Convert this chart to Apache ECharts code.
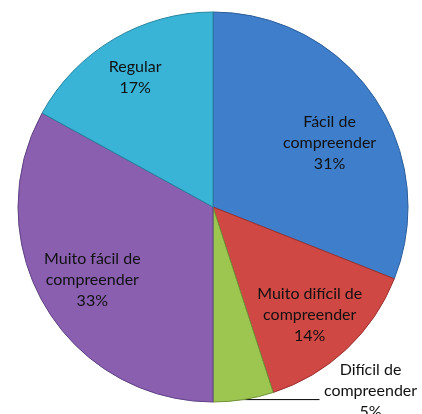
<!DOCTYPE html>
<html><head><meta charset="utf-8">
<script src="https://cdn.jsdelivr.net/npm/echarts@6/dist/echarts.min.js"></script>
<style>html,body{margin:0;padding:0;background:#fff}#c{width:422px;height:414px}</style>
</head><body><div id="c"></div>
<script>
const categories = ["Fácil de\ncompreender", "Muito difícil de\ncompreender", "Difícil de\ncompreender", "Muito fácil de\ncompreender", "Regular"];
const values = [31, 14, 5, 33, 17];
const colors = ["#3E7ECA", "#CF4843", "#9CC650", "#8A5FB0", "#39B3D6"];
const borders = ["#2C5D99", "#983230", "#6F9236", "#5F4283", "#26849E"];
const labelOffsets = [[-10, 22], [-8, -4], [0, 0], [11, -5], [0, 2]];

const chart = echarts.init(document.getElementById('c'));
const baseData = categories.map((n, i) => ({
  name: n, value: values[i],
  itemStyle: { color: colors[i], borderColor: borders[i], borderWidth: 1 }
}));
const center = [213, 207];
const R = 195;
const font = { fontFamily: 'Lato', fontSize: 16, lineHeight: 21, color: '#111' };
chart.setOption({
  animation: false,
  series: [
    {
      type: 'pie', center: center, radius: [0, R], startAngle: 90, clockwise: true,
      avoidLabelOverlap: false,
      data: baseData.map((d, i) => Object.assign({}, d, {
        label: i === 2 ? { show: true, position: 'outside', ...font, lineHeight: 21,
            overflow: 'none', width: 120,
            formatter: p => p.name + '\n' + p.value + '%' } : { show: false },
        labelLine: i === 2 ? { show: true, length: 0, length2: 76, lineStyle: { color: '#000', width: 1 } } : { show: false }
      })),
      label: { show: false },
      labelLayout: p => p.dataIndex === 2 ? { align: 'center', dx: 46, dy: -9 } : {},
      emphasis: { disabled: true }
    },
    {
      type: 'pie', center: center, radius: [105, R], startAngle: 90, clockwise: true, silent: true,
      data: baseData.map((d, i) => ({ name: d.name, value: d.value,
        itemStyle: { color: 'transparent' },
        label: { show: i !== 2, offset: labelOffsets[i] } })),
      label: { show: true, position: 'inside', ...font, align: 'center',
        formatter: p => p.name + '\n' + p.value + '%' },
      labelLine: { show: false },
      emphasis: { disabled: true }
    }
  ]
});
</script></body></html>
